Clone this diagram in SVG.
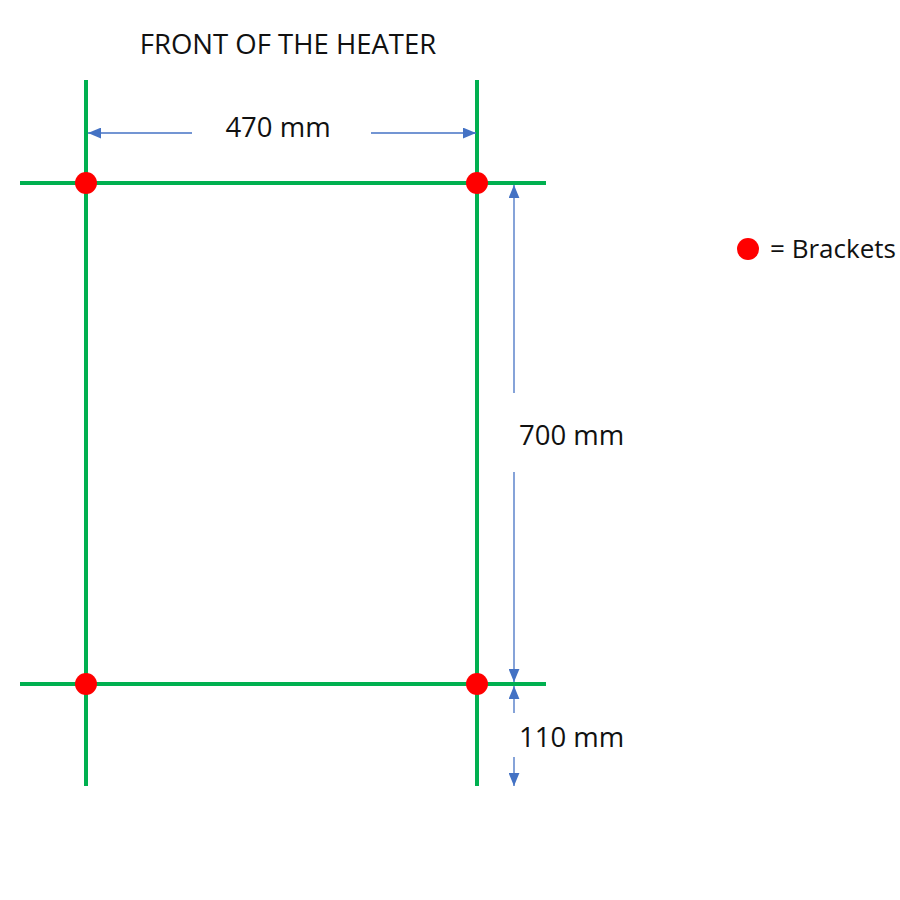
<svg xmlns="http://www.w3.org/2000/svg" width="900" height="900" viewBox="0 0 900 900">
<defs>
<style>
.g{stroke:#00B050;stroke-width:4;fill:none}
.a{stroke:#4472C4;stroke-width:1.3;fill:none;marker-end:url(#ah)}
.t{font-family:"Open Sans","Liberation Sans",sans-serif;font-size:27.5px;fill:#111}
.b{fill:#FF0000}
</style>
<marker id="ah" viewBox="0 0 12 10" refX="12" refY="5" markerWidth="13" markerHeight="11" markerUnits="userSpaceOnUse" orient="auto">
<path d="M0,0 L12,5 L0,10 Z" fill="#4472C4"/>
</marker>
</defs>
<rect width="900" height="900" fill="#fff"/>
<g id="frame">
<line class="g" x1="86" y1="80" x2="86" y2="786"/>
<line class="g" x1="477" y1="80" x2="477" y2="786"/>
<line class="g" x1="20" y1="183" x2="546" y2="183"/>
<line class="g" x1="20" y1="684" x2="546" y2="684"/>
</g>
<g id="brackets">
<circle class="b" cx="86" cy="183" r="11"/>
<circle class="b" cx="477" cy="183" r="11"/>
<circle class="b" cx="86" cy="684" r="11"/>
<circle class="b" cx="477" cy="684" r="11"/>
</g>
<g id="connectors">
<line class="a" x1="192" y1="133" x2="88" y2="133"/>
<line class="a" x1="371" y1="133" x2="476" y2="133"/>
<line class="a" x1="514" y1="393" x2="514" y2="185"/>
<line class="a" x1="514" y1="472" x2="514" y2="682"/>
<line class="a" x1="514" y1="713" x2="514" y2="686"/>
<line class="a" x1="514" y1="757" x2="514" y2="786"/>
</g>
<g id="labels">
<text class="t" x="288" y="54" text-anchor="middle">FRONT OF THE HEATER</text>
<text class="t" x="278" y="137" text-anchor="middle">470 mm</text>
<text class="t" x="519" y="445">700 mm</text>
<text class="t" x="519" y="747">110 mm</text>
</g>
<g id="legend">
<circle class="b" cx="748" cy="249" r="11"/>
<text class="t" x="770" y="258" style="font-size:25px" textLength="126" lengthAdjust="spacingAndGlyphs">= Brackets</text>
</g>
</svg>
